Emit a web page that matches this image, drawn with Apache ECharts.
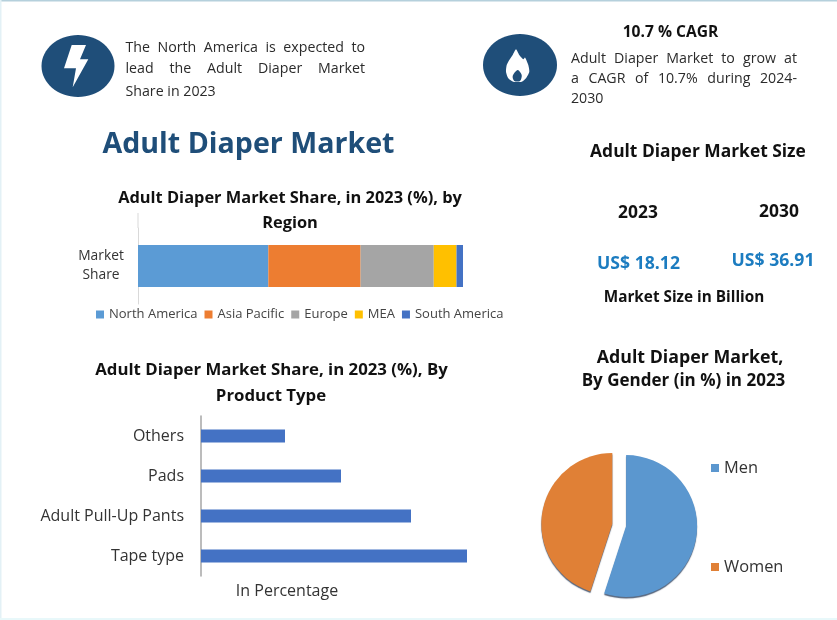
<!DOCTYPE html>
<html><head><meta charset="utf-8">
<style>html,body{margin:0;padding:0;background:#fff}#c{width:837px;height:620px}</style>
<script src="https://cdn.jsdelivr.net/npm/echarts@6/dist/echarts.min.js"></script>
</head><body><div id="c"></div>
<script>
const regionNames = ['North America','Asia Pacific','Europe','MEA','South America'];
const regionValues = [40.1,28.4,22.5,7,2];
const regionColors = ['#5b9bd5','#ed7d31','#a5a5a5','#ffc000','#4472c4'];
const regionCategory = ['Market\nShare'];
const productCategories = ['Tape type','Adult Pull-Up Pants','Pads','Others'];
const productValues = [38,30,20,12];
const genderNames = ['Men','Women'];
const genderValues = [55,45];
const genderColors = ['#5b97cf','#e08036'];
const FONT = '"Open Sans", sans-serif';
const DARK = '#1f4e79';

const chart = echarts.init(document.getElementById('c'), null, {renderer:'canvas'});

const YOFF = 1.5;
const ctx = document.createElement('canvas').getContext('2d');
function justified(text, x0, x1, y, size, fill){
  const words = text.split(' ');
  ctx.font = size+'px "Open Sans"';
  const widths = words.map(w=>ctx.measureText(w).width);
  const gap = (x1-x0-widths.reduce((a,b)=>a+b,0))/(words.length-1);
  let x = x0;
  return words.map((w,i)=>{
    const el = {type:'text',x:x,y:y+YOFF,style:{text:w,font:size+'px '+FONT,fill:fill,textVerticalAlign:'middle'}};
    x += widths[i]+gap;
    return el;
  });
}
function label(text,x,y,size,fill,weight,align){
  return {type:'text',x:x,y:y+YOFF,style:{text:text,font:(weight||'normal')+' '+size+'px '+FONT,fill:fill,textAlign:align||'center',textVerticalAlign:'middle'}};
}
const BODY='#2b2b2b', INK='#111';
const flameOuter = [[516,49.3],[519.3,55],[523.3,59.3],[525,57.5],[528.3,65],[529.3,71.7],[526,78.3],[521.7,81.7],[513.3,81.7],[508.3,78.3],[506,71.7],[506.7,65],[509.3,60],[512.7,55]];
const flameInner = [[517.7,70],[521.7,75],[520,81],[514.3,81],[512.7,76]];
const graphics = [
  {type:'rect',shape:{x:0,y:0,width:837,height:1.5},style:{fill:'#b5d0dc'},silent:true},
  {type:'rect',shape:{x:0,y:0,width:1.5,height:620},style:{fill:'#e3f1f6'},silent:true},
  {type:'rect',shape:{x:0,y:618,width:837,height:2},style:{fill:'#e8f8fa'},silent:true},
  {type:'ellipse',shape:{cx:78,cy:66,rx:36.5,ry:31},style:{fill:DARK}},
  {type:'polygon',shape:{points:[[71.7,45],[86,45],[80,59.3],[88.3,59.3],[72.7,87.3],[76,68.3],[64,68.3]]},style:{fill:'#fff'}},
  {type:'ellipse',shape:{cx:520,cy:65,rx:37,ry:31},style:{fill:DARK}},
  {type:'polygon',shape:{points:flameOuter,smooth:0.2},style:{fill:'#fff'}},
  {type:'polygon',shape:{points:flameInner,smooth:0.3},style:{fill:DARK}},
  ...justified('The North America is expected to',125.5,365,46,14.2,BODY),
  ...justified('lead the Adult Diaper Market',125.5,365,67,14.2,BODY),
  label('Share in 2023',125.5,90,14.2,BODY,'normal','left'),
  ...justified('Adult Diaper Market to grow at',571,797,57,14.2,BODY),
  ...justified('a CAGR of 10.7% during 2024-',571,797,77,14.2,BODY),
  label('2030',571,97,14.2,BODY,'normal','left'),
  label('10.7 % CAGR',670.5,31,15.6,INK,'bold'),
  label('Adult Diaper Market',248.5,143,28.6,DARK,'bold'),
  label('Adult Diaper Market Size',698,151,17.4,INK,'bold'),
  label('2023',638,212,17.4,INK,'bold'),
  label('2030',779,211,17.4,INK,'bold'),
  label('US$ 18.12',638.5,262,17.6,'#1c7cc0','bold'),
  label('US$ 36.91',773,259,17.6,'#1c7cc0','bold'),
  label('Market Size in Billion',684,296,15.3,INK,'bold'),
  label('Adult Diaper Market Share, in 2023 (%), by',290,197,16.4,INK,'bold'),
  label('Region',290,222,16.4,INK,'bold'),
  label('Adult Diaper Market Share, in 2023 (%), By',271.5,369,16.8,INK,'bold'),
  label('Product Type',271,395,16.8,INK,'bold'),
  label('Adult Diaper Market,',690,356,17.8,INK,'bold'),
  label('By Gender (in %) in 2023',683.5,380,17,INK,'bold'),
  label('In Percentage',287,590,16,'#333'),
  {type:'line',shape:{x1:138,y1:213,x2:138,y2:228},style:{stroke:'#d9d9d9',lineWidth:1}}
];

const option = {
  animation:false,
  backgroundColor:'#fff',
  textStyle:{fontFamily:FONT},
  grid:[
    {left:138,top:228,width:325,height:76},
    {left:201,top:416,width:280,height:160}
  ],
  xAxis:[
    {gridIndex:0,type:'value',min:0,max:100,show:false},
    {gridIndex:1,type:'value',min:0,max:40,show:false}
  ],
  yAxis:[
    {gridIndex:0,type:'category',data:regionCategory,
     axisLine:{lineStyle:{color:'#d9d9d9',width:1}},axisTick:{show:false},
     axisLabel:{color:'#333',fontSize:13.8,lineHeight:19,align:'center',margin:37,fontFamily:FONT}},
    {gridIndex:1,type:'category',data:productCategories,
     axisLine:{lineStyle:{color:'#a6a6a6',width:1.5}},axisTick:{show:false},
     axisLabel:{color:'#333',fontSize:16,margin:17,padding:[3,0,0,0],fontFamily:FONT}}
  ],
  legend:[
    {data:regionNames,left:91,top:303,icon:'rect',itemWidth:8,itemHeight:8,itemGap:7,selectedMode:false,
     textStyle:{color:'#444',fontSize:13,fontFamily:FONT}},
    {data:genderNames,left:706,top:455,orient:'vertical',icon:'rect',itemWidth:8,itemHeight:8,itemGap:83,selectedMode:false,
     textStyle:{color:'#333',fontSize:16.4,fontFamily:FONT}}
  ],
  series:[
    ...regionNames.map((n,i)=>({
      name:n,type:'bar',stack:'r',xAxisIndex:0,yAxisIndex:0,barWidth:42,
      itemStyle:{color:regionColors[i]},data:[regionValues[i]]
    })),
    {type:'bar',xAxisIndex:1,yAxisIndex:1,barWidth:13,itemStyle:{color:'#4472c4'},data:productValues},
    {type:'pie',center:[619.2,525],radius:[0,71],startAngle:90,clockwise:true,
     selectedMode:'multiple',selectedOffset:7,label:{show:false},labelLine:{show:false},
     data:genderNames.map((n,i)=>({name:n,value:genderValues[i],selected:true,
       itemStyle:{color:genderColors[i],shadowColor:'rgba(30,50,80,0.75)',shadowBlur:1,shadowOffsetY:1.5}}))}
  ],
  graphic:graphics
};
chart.setOption(option);
</script></body></html>
